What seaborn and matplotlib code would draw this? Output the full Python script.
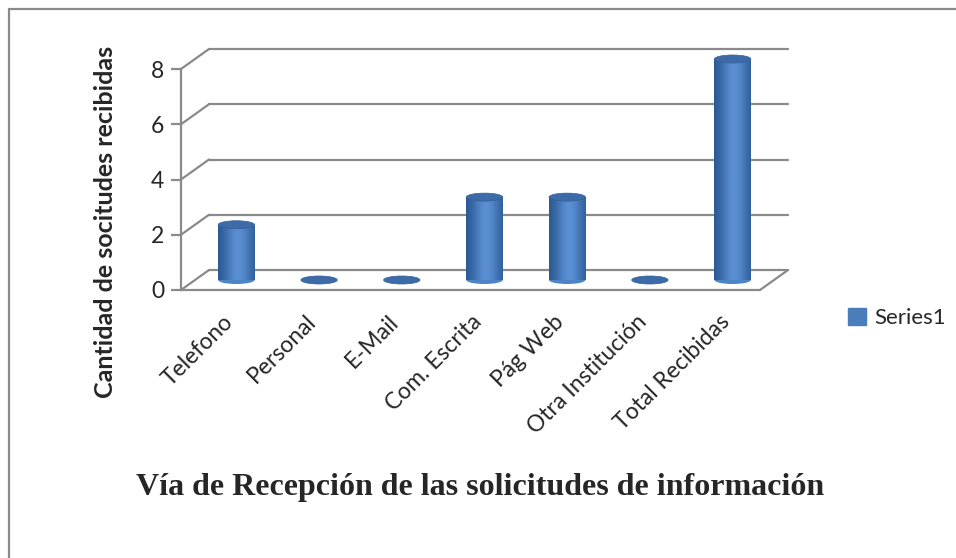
import numpy as np
import pandas as pd
import seaborn as sns
import matplotlib.pyplot as plt
import matplotlib.transforms as mtransforms
from matplotlib.patches import Ellipse, Rectangle
from matplotlib.lines import Line2D
from matplotlib.colors import LinearSegmentedColormap

categories = ["Telefono", "Personal", "E-Mail", "Com. Escrita", "Pág Web",
              "Otra Institución", "Total Recibidas"]
values = [2, 0, 0, 3, 3, 0, 8]
y_ticks = [0, 2, 4, 6, 8]
series_name = "Series1"

df = pd.DataFrame({"via": categories, "cantidad": values})

sns.set_style("white")
plt.rcParams['font.family'] = ['Lato', 'DejaVu Sans']

fig = plt.figure(figsize=(9.56, 5.58), dpi=100)
# front plane of the 3d box, in pixels: x 181..760, y 290 (0) .. 69 (8)
ax = fig.add_axes([181 / 956, (558 - 290) / 558, 579 / 956, 221 / 558])

grid_col = "#8a8a8a"
back = mtransforms.ScaledTranslation(0.28, 0.20, fig.dpi_scale_trans)
half = mtransforms.ScaledTranslation(0.14, 0.10, fig.dpi_scale_trans)

sns.barplot(data=df, x="via", y="cantidad", color="#4a7ebb", width=0.44,
            ax=ax, zorder=5)
n = len(categories)
ax.set_xlim(-0.5, n - 0.5)
ax.set_ylim(0, 8)

# back wall gridlines + connectors to the front axis
for t in y_ticks:
    ax.add_line(Line2D([-0.5, n - 0.5], [t, t], color=grid_col, lw=1.6,
                       transform=ax.transData + back, clip_on=False, zorder=1))
    x0, y0 = ax.transData.transform((-0.5, t))
    x1, y1 = (ax.transData + back).transform((-0.5, t))
    fig.add_artist(Line2D([x0 / 956, x1 / 956], [y0 / 558, y1 / 558], color=grid_col, lw=1.6))
# floor front edge and right edge
ax.add_line(Line2D([-0.5, n - 0.5], [0, 0], color=grid_col, lw=1.6,
                   transform=ax.transData, clip_on=False, zorder=2))
xr0, yr0 = ax.transData.transform((n - 0.5, 0))
xr1, yr1 = (ax.transData + back).transform((n - 0.5, 0))
fig.add_artist(Line2D([xr0 / 956, xr1 / 956], [yr0 / 558, yr1 / 558], color=grid_col, lw=1.6))

# cylinders: shift bars to mid depth, add gradient and elliptical caps
grad = np.linspace(0, 1, 64)
shade = np.exp(-((grad - 0.55) / 0.38) ** 2)
cyl = LinearSegmentedColormap.from_list("cyl", ["#2c5a94", "#5a8fd3"])
ell_h = 8 / (221 / 8)
for bar, v in zip(ax.patches, values):
    bar.set_transform(ax.transData + half)
    bar.set_clip_on(False)
    bar.set_edgecolor("none")
    bx, bw = bar.get_x(), bar.get_width()
    cx = bx + bw / 2
    if v > 0:
        bot = Ellipse((cx, 0), bw, ell_h, transform=ax.transData + half,
                      facecolor="#4d84c6", edgecolor="none", zorder=5, clip_on=False)
        ax.add_patch(bot)
        img = ax.imshow(shade[np.newaxis, :], cmap=cyl, aspect="auto",
                        extent=(bx, bx + bw, 0, v), zorder=6,
                        transform=ax.transData + half)
        img.set_clip_path(bar)
    top = Ellipse((cx, v), bw, ell_h, transform=ax.transData + half,
                  facecolor="#3c6ba8", edgecolor="#335f98", lw=0.5, zorder=7, clip_on=False)
    ax.add_patch(top)
ax.set_xlim(-0.5, n - 0.5)
ax.set_ylim(0, 8)

for s in ["top", "right", "bottom"]:
    ax.spines[s].set_visible(False)
ax.spines["left"].set_color(grid_col)
ax.spines["left"].set_linewidth(1.6)
ax.set_yticks(y_ticks)
ax.tick_params(axis="y", length=7, width=1.6, color=grid_col, labelsize=16.5, pad=5, left=True)
ax.tick_params(axis="x", length=0, labelsize=16.5, pad=15)
ax.set_xticks(range(n))
ax.set_xticklabels(categories, rotation=45, ha="right", rotation_mode="anchor")
ax.set_xlabel("")
ax.set_ylabel("Cantidad de socitudes recibidas", fontsize=18, fontweight="bold")
ax.yaxis.set_label_coords(-0.11, 0.31)

handles = [Rectangle((0, 0), 1, 1, color="#4a7ebb")]
fig.legend(handles, [series_name], loc="center left", bbox_to_anchor=(828 / 956, 1 - 318 / 558),
           frameon=False, fontsize=16, handlelength=0.8, handleheight=0.8, handletextpad=0.4)

fig.text(480 / 956, 1 - 488 / 558, "Vía de Recepción de las solicitudes de información",
         ha="center", va="center", fontsize=23, fontweight="bold", family="Liberation Serif")

fig.add_artist(Line2D([9 / 956, 9 / 956], [0, 1 - 9 / 558], color="#8a8a8a", lw=1.6))
fig.add_artist(Line2D([9 / 956, 1], [1 - 9 / 558, 1 - 9 / 558], color="#8a8a8a", lw=1.6))

fig.savefig("out.png", dpi=100)
